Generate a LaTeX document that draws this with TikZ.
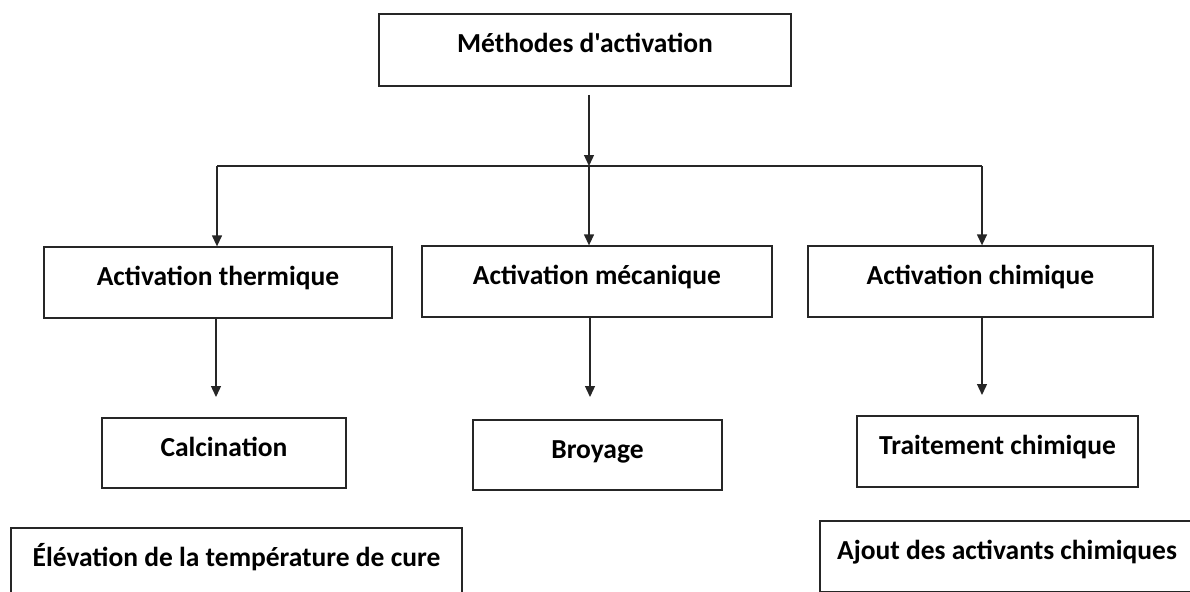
\documentclass[tikz,border=0pt]{standalone}
\usepackage{fontspec}
\setmainfont{Carlito}[Ligatures=TeXOff]
\usetikzlibrary{arrows.meta}
\begin{document}
\begin{tikzpicture}[x=1pt,y=-1pt,
  boxst/.style={draw=black!85, line width=1.3pt, inner sep=0pt, text height=17pt, text depth=11pt,
    font=\bfseries\fontsize{27.5}{32}\selectfont},
  arr/.style={draw=black!85, line width=1.3pt, -{Triangle[length=11pt,width=10pt]}},
  ln/.style={draw=black!85, line width=1.3pt}]
\useasboundingbox (0,0) rectangle (1190,591);
\clip (0,0) rectangle (1190,591);
\node[boxst, minimum width=412pt, minimum height=72pt] (top) at (585,50) {Méthodes d'activation};
\node[boxst, minimum width=348pt, minimum height=71pt] (therm) at (218,282.5) {Activation thermique};
\node[boxst, minimum width=350pt, minimum height=71pt] (meca) at (597,281.5) {Activation mécanique};
\node[boxst, minimum width=345pt, minimum height=71pt] (chim) at (980.5,281.5) {Activation chimique};
\node[boxst, minimum width=244pt, minimum height=70pt] (calc) at (224,453) {Calcination};
\node[boxst, minimum width=249pt, minimum height=70pt] (broy) at (597.5,455) {Broyage};
\node[boxst, minimum width=281pt, minimum height=71pt] (trait) at (997.5,451.5) {Traitement chimique};
\node[boxst, minimum width=451pt, minimum height=71pt] (elev) at (236.5,563.5) {Élévation de la température de cure};
\node[boxst, minimum width=374pt, minimum height=71pt] (ajout) at (1007,556.5) {Ajout des activants chimiques};
\coordinate (s0) at (589,95);
\coordinate (hub) at (589,166);
\coordinate (hl) at (217,166);
\coordinate (hr) at (982,166);
\draw[arr] (s0) -- (hub);
\draw[ln] (hl) -- (hr);
\draw[arr] (hub) -- (hub |- meca.north);
\draw[arr] (hl) -- (hl |- therm.north);
\draw[arr] (hr) -- (hr |- chim.north);
\coordinate (e1) at (216,397);
\coordinate (e2) at (590,397);
\coordinate (e3) at (982,395);
\draw[arr] (e1 |- therm.south) -- (e1);
\draw[arr] (e2 |- meca.south) -- (e2);
\draw[arr] (e3 |- chim.south) -- (e3);
\end{tikzpicture}
\end{document}
